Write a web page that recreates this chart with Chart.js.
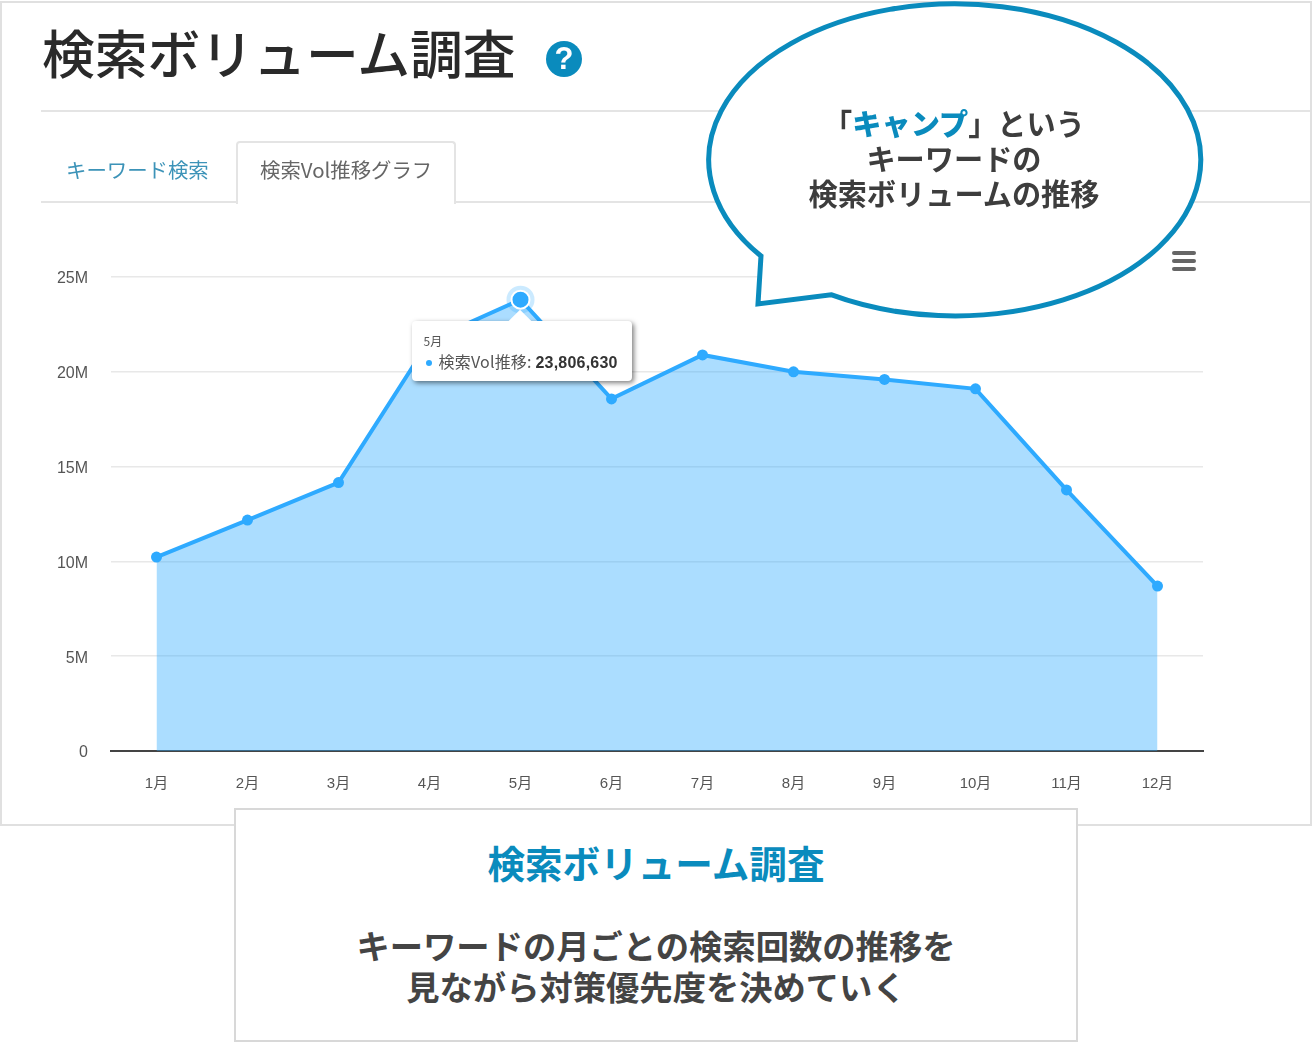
<!DOCTYPE html>
<html lang="ja">
<head>
<meta charset="UTF-8">
<title>検索ボリューム調査</title>
<script src="https://cdn.jsdelivr.net/npm/chart.js"></script>
<style>
html, body { margin: 0; background: #fff; }
body { position: relative; width: 1312px; height: 1042px; overflow: hidden; font-family: "Noto Sans CJK JP", "Noto Sans", sans-serif; }
#panel { position: absolute; left: 0; top: 1px; width: 1308px; height: 821px; border: 2px solid #e0e0e0; }
#flowChart { position: absolute; left: 0; top: 0; }
h1 { position: absolute; left: 42px; top: 13px; margin: 0; font-size: 52.8px; line-height: 76px; font-weight: 500; color: #2a2a2a; white-space: nowrap; }
#help { position: absolute; left: 546px; top: 41px; width: 36px; height: 36px; border-radius: 50%; background: #0a8bbd; color: #fff; font: bold 31px/36px "Liberation Sans", sans-serif; text-align: center; }
.rule { position: absolute; height: 2px; background: #e4e4e4; }
.tab { position: absolute; top: 154px; font-size: 20.4px; line-height: 30px; white-space: nowrap; }
#tabBox { position: absolute; left: 236px; top: 141px; width: 216px; height: 61px; border: 2px solid #e4e4e4; border-bottom: 0; border-radius: 4px 4px 0 0; background: #fff; }
#mask { position: absolute; left: 1100px; top: 240px; width: 110px; height: 45px; background: #fff; }
#menu { position: absolute; left: 1172px; top: 251px; width: 24px; }
#menu i { display: block; height: 4px; margin-bottom: 4px; background: #666; border-radius: 2px; }
#bubble { position: absolute; left: 0; top: 0; }
#bubbleText { position: absolute; left: 705px; top: 105px; width: 498px; text-align: center; font-size: 29.2px; line-height: 35px; font-weight: 700; color: #3d3d3d; }
#bubbleText b { color: #0a8bbd; }
#box { position: absolute; left: 234px; top: 808px; width: 840px; height: 230px; border: 2px solid #d8d8d8; background: #fff; text-align: center; }
#box h2 { position: absolute; left: 0; right: 0; top: 25px; margin: 0; font-size: 37.6px; line-height: 54px; font-weight: 700; color: #0a8bbd; }
#box p { position: absolute; left: 0; right: 0; top: 114px; margin: 0; font-size: 33.3px; line-height: 41px; font-weight: 700; color: #444; }
#tip { position: absolute; width: 220px; height: 60px; background: #fff; border-radius: 4px; box-shadow: 2px 2px 5px rgba(0,0,0,.5); color: #555; }
#tip:before { content: ""; position: absolute; left: 100px; top: -8px; width: 16px; height: 16px; background: #fff; transform: rotate(45deg); }
#tipTitle { position: absolute; left: 12px; top: 11px; font-size: 12px; line-height: 18px; }
#tipBody { position: absolute; left: 14px; top: 29px; font-size: 16px; line-height: 22px; white-space: nowrap; letter-spacing: .2px; }
#tipBody b { color: #333; font-family: "Liberation Sans", sans-serif; }
#tipBody span { display: inline-block; width: 6px; height: 6px; border-radius: 50%; background: #2eaaff; margin-right: 7px; vertical-align: 2px; }
</style>
</head>
<body>
<div id="panel"></div>
<canvas id="flowChart" width="1312" height="1042"></canvas>
<h1>検索ボリューム調査</h1>
<div id="help">?</div>
<div class="rule" style="left:41px;top:110px;width:1269px"></div>
<div class="rule" style="left:41px;top:201px;width:1269px"></div>
<div id="tabBox"></div>
<div class="tab" style="left:66px;color:#3c93b8">キーワード検索</div>
<div class="tab" style="left:260px;color:#666">検索Vol推移グラフ</div>
<div id="mask"></div>
<div id="menu"><i></i><i></i><i></i></div>
<svg id="bubble" width="1312" height="330">
  <path d="M831 294.7 A246 156 0 1 0 761 256 L758 304 Z" fill="#fff" stroke="#0a8bbd" stroke-width="5"/>
</svg>
<div id="bubbleText">「<b>キャンプ</b>」という<br>キーワードの<br>検索ボリュームの推移</div>
<div id="box">
  <h2>検索ボリューム調査</h2>
  <p>キーワードの月ごとの検索回数の推移を<br>見ながら対策優先度を決めていく</p>
</div>
<div id="tip"><div id="tipTitle"></div><div id="tipBody"></div></div>

<script>
// グラフのデータ
const months = ['1月', '2月', '3月', '4月', '5月', '6月', '7月', '8月', '9月', '10月', '11月', '12月'];
const searchVolume = [10230000, 12180000, 14160000, 21650000, 23806630, 18570000, 20890000, 20000000, 19600000, 19100000, 13770000, 8700000];
const yTickLabels = ['0', '5M', '10M', '15M', '20M', '25M'];
const seriesName = '検索Vol推移';
const activeIndex = 4;

// 選択中の点のまわりの薄い輪
const haloPlugin = {
  id: 'halo',
  beforeDatasetsDraw(chart) {
    const pt = chart.getDatasetMeta(0).data[activeIndex];
    const c = chart.ctx;
    c.save();
    c.beginPath();
    c.arc(pt.x, pt.y, 14, 0, Math.PI * 2);
    c.fillStyle = 'rgba(46,170,255,0.25)';
    c.fill();
    c.restore();
  }
};

function showTip(context) {
  const t = context.tooltip;
  if (!t.dataPoints || !t.dataPoints.length) return;
  const tip = document.getElementById('tip');
  tip.style.left = (t.caretX - 109) + 'px';
  tip.style.top = (t.caretY + 21.5) + 'px';
  document.getElementById('tipTitle').textContent = t.title[0];
  document.getElementById('tipBody').innerHTML = '<span></span>' + seriesName + ': <b>' +
    t.dataPoints[0].raw.toLocaleString('en-US') + '</b>';
}

const ctx = document.getElementById('flowChart').getContext('2d');
const flowChart = new Chart(ctx, {
  type: 'line',
  data: {
    labels: months,
    datasets: [{
      label: seriesName,
      data: searchVolume,
      borderColor: '#2eaaff',
      backgroundColor: 'rgba(46,170,255,0.4)',
      borderWidth: 4,
      fill: 'origin',
      tension: 0,
      pointRadius: 5.5,
      pointBackgroundColor: '#2eaaff',
      pointBorderColor: '#2eaaff',
      pointBorderWidth: 0,
      pointHoverRadius: 9,
      pointHoverBackgroundColor: '#2eaaff',
      pointHoverBorderColor: '#fff',
      pointHoverBorderWidth: 2
    }]
  },
  plugins: [haloPlugin],
  options: {
    responsive: false,
    animation: false,
    events: [],
    layout: { padding: { top: 277, right: 109, bottom: 231, left: 0 } },
    plugins: {
      legend: { display: false },
      title: { display: false },
      tooltip: { enabled: false, external: showTip }
    },
    scales: {
      x: {
        offset: true,
        afterFit(scale) { scale.height = 60; },
        grid: { display: false },
        border: { display: true, color: '#444', width: 2 },
        ticks: { color: '#555', padding: 16, maxRotation: 0, autoSkip: false, font: { size: 15, family: '"Liberation Sans", "Noto Sans CJK JP", sans-serif' } }
      },
      y: {
        min: 0,
        max: 25000000,
        afterFit(scale) { scale.width = 111; },
        grid: { color: '#e8e8e8', lineWidth: 1.5, drawTicks: false },
        border: { display: false },
        ticks: {
          stepSize: 5000000,
          padding: 23,
          labelOffset: 2,
          color: '#555',
          font: { size: 16, family: '"Liberation Sans", sans-serif' },
          callback: (v, i) => yTickLabels[i]
        }
      }
    }
  }
});

const active = [{ datasetIndex: 0, index: activeIndex }];
flowChart.setActiveElements(active);
flowChart.tooltip.setActiveElements(active, { x: 0, y: 0 });
flowChart.update();
</script>
</body>
</html>
